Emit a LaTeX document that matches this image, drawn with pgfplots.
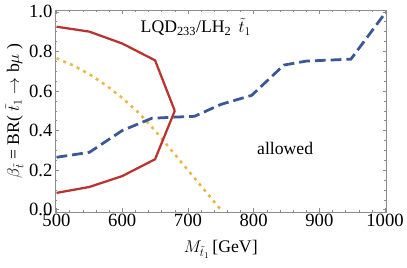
\documentclass[border=0pt]{standalone}
\usepackage{fontspec}
\setmainfont{Liberation Serif}
\usepackage{pgfplots}
\pgfplotsset{compat=1.18}
\definecolor{cred}{RGB}{185,52,48}
\definecolor{cblue}{RGB}{58,88,152}
\definecolor{cyel}{RGB}{232,184,72}
\definecolor{cframe}{RGB}{140,140,140}
\begin{document}
\begin{tikzpicture}
\begin{axis}[
  scale only axis, width=336.3bp, height=205bp,
  xmin=497.6, xmax=1002.2, ymin=-0.0115, ymax=1.01,
  clip=false,
  axis line style={cframe, line width=0.6bp},
  tick style={cframe, line width=0.5bp},
  tick align=inside,
  major tick length=4bp, minor tick length=2.5bp,
  xtick={500,600,...,1000}, minor x tick num=4,
  ytick={0,0.2,...,1.0}, minor y tick num=3,
  xticklabel style={/pgf/number format/1000 sep={}},
  yticklabel style={/pgf/number format/fixed, /pgf/number format/fixed zerofill, /pgf/number format/precision=1},
  /pgf/number format/assume math mode=true,
  ticklabel style={font=\fontsize{19}{20}\selectfont, text=black},
  xticklabel style={yshift=1bp},
  yticklabel style={xshift=1bp},
  every axis y label/.style={at={(axis description cs:-0.123,0.5)}, rotate=90, anchor=center},
  every axis x label/.style={at={(axis description cs:0.5,-0.185)}, anchor=center},
  label style={font=\fontsize{18}{20}\selectfont},
  ylabel={$\beta_{\tilde t}$ = BR( $\tilde t_1\to$ b$\mu$ )},
  xlabel={$M_{\tilde t_1}$\,[GeV]},
]
\path (axis description cs:-0.1656,-0.2732) rectangle (axis description cs:1.0446,1.0488);
\addplot[cyel, line width=2.6bp, dash pattern=on 3bp off 4.5bp] coordinates {
 (500,0.765) (525,0.73) (550,0.685) (575,0.63) (600,0.565) (625,0.49) (650,0.40)
 (675,0.30) (700,0.20) (725,0.10) (750,0.0)};
\addplot[cblue, line width=2.8bp, dash pattern=on 11bp off 5bp] coordinates {
 (500,0.265) (550,0.29) (600,0.40) (645,0.462) (680,0.468) (710,0.472) (750,0.532)
 (797,0.578) (846,0.731) (880,0.751) (948,0.761) (1000,0.993)};
\addplot[cred, line width=2.3bp] coordinates {
 (500,0.925) (550,0.90) (600,0.84) (650,0.755) (680,0.50)};
\addplot[cred, line width=2.3bp] coordinates {
 (500,0.085) (550,0.115) (600,0.17) (650,0.255) (680,0.50)};
\node[anchor=base, font=\fontsize{18}{20}\selectfont] at (axis cs:712,0.894)
 {LQD\textsubscript{233}/LH\textsubscript{2}\, $\tilde t_1$};
\node[anchor=base, font=\fontsize{18}{20}\selectfont] at (axis cs:848,0.279) {allowed};
\end{axis}
\end{tikzpicture}
\end{document}
